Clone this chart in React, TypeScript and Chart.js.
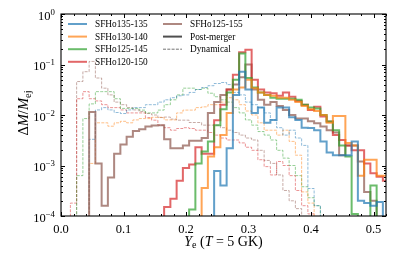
import React, { useEffect, useRef } from 'react';
import { Chart, registerables } from 'chart.js';

Chart.register(...registerables);

// Bin centres in Y_e (bin width 0.01)
const YE_BINS = [
  0.00, 0.01, 0.02, 0.03, 0.04, 0.05, 0.06, 0.07, 0.08, 0.09,
  0.10, 0.11, 0.12, 0.13, 0.14, 0.15, 0.16, 0.17, 0.18, 0.19,
  0.20, 0.21, 0.22, 0.23, 0.24, 0.25, 0.26, 0.27, 0.28, 0.29,
  0.30, 0.31, 0.32, 0.33, 0.34, 0.35, 0.36, 0.37, 0.38, 0.39,
  0.40, 0.41, 0.42, 0.43, 0.44, 0.45, 0.46, 0.47, 0.48, 0.49,
  0.50, 0.51, 0.52,
];
const BIN_HALF = 0.005;

const MODELS = ['SFHo135-135', 'SFHo130-140', 'SFHo125-145', 'SFHo120-150', 'SFHo125-155'];
const MODEL_RGB = ['31,119,180', '255,127,14', '44,160,44', '214,39,40', '140,86,75'];

// Post-merger ejecta, Delta M / M_ej per bin
const PM_135_135 = [
  0, 0, 0, 0, 0, 0, 0, 0, 0, 0,
  0, 0, 0, 0, 0, 0, 0, 0, 0, 0,
  0, 0, 0, 0, 0, 7.8e-4, 4.0e-4, 2.2e-3, 2.5e-2, 7.2e-2,
  3.2e-2, 1.1e-2, 1.4e-2, 7.0e-3, 8.0e-3, 1.4e-2, 1.4e-2, 9.0e-3, 8.0e-3, 5.6e-3,
  5.5e-3, 5.0e-3, 3.0e-3, 1.8e-3, 1.6e-3, 1.6e-3, 1.6e-3, 3.0e-3, 2.0e-4, 1.8e-4,
  1.6e-4, 1.9e-4, 0,
];
const PM_130_140 = [
  0, 0, 0, 0, 0, 0, 0, 0, 0, 0,
  0, 0, 0, 0, 0, 0, 0, 0, 0, 0,
  0, 0, 0, 3.6e-4, 1.5e-3, 2.3e-3, 4.0e-3, 1.1e-2, 3.2e-2, 3.5e-2,
  5.0e-2, 3.4e-2, 2.8e-2, 2.5e-2, 2.4e-2, 2.2e-2, 2.2e-2, 2.0e-2, 1.8e-2, 1.5e-2,
  1.3e-2, 1.2e-2, 1.0e-2, 7.0e-3, 9.5e-3, 9.5e-3, 2.8e-3, 2.5e-3, 6.3e-4, 1.3e-3,
  1.3e-3, 6.3e-4, 6.3e-4,
];
const PM_125_145 = [
  0, 0, 0, 0, 0, 0, 0, 0, 0, 0,
  0, 0, 0, 0, 0, 0, 0, 0, 0, 0,
  0, 1.35e-4, 1.1e-3, 1.9e-3, 3.0e-3, 6.3e-3, 1.3e-2, 2.8e-2, 5.0e-2, 1.66e-1,
  5.4e-2, 3.5e-2, 2.8e-2, 2.5e-2, 2.2e-2, 2.1e-2, 2.1e-2, 2.1e-2, 2.0e-2, 1.6e-2,
  1.4e-2, 1.35e-2, 1.0e-2, 7.4e-3, 5.0e-3, 2.5e-3, 1.5e-3, 1.1e-4, 0, 0,
  4.0e-4, 0, 0,
];
const PM_120_150 = [
  0, 0, 0, 0, 0, 0, 0, 0, 0, 0,
  0, 0, 0, 0, 0, 0, 0, 1.5e-4, 2.2e-4, 5.0e-4,
  8.9e-4, 1.05e-3, 2.3e-3, 1.7e-3, 1.7e-3, 7.9e-3, 1.6e-2, 3.2e-2, 6.3e-2, 1.74e-1,
  1.95e-1, 5.0e-2, 3.2e-2, 2.8e-2, 2.7e-2, 2.4e-2, 2.8e-2, 2.3e-2, 1.9e-2, 1.6e-2,
  1.25e-2, 1.45e-2, 9.3e-3, 7.4e-3, 4.0e-3, 3.2e-3, 2.5e-3, 2.0e-3, 2.0e-3, 1.1e-3,
  7.0e-4, 6.0e-4, 5.0e-4,
];
const PM_125_155 = [
  0, 0, 0, 0, 0, 1.15e-2, 1.1e-3, 1.6e-4, 5.8e-4, 1.7e-3,
  2.6e-3, 3.7e-3, 4.8e-3, 5.2e-3, 5.9e-3, 6.2e-3, 6.3e-3, 3.3e-3, 2.2e-3, 2.2e-3,
  2.5e-3, 3.1e-3, 3.1e-3, 3.5e-3, 1.1e-2, 1.8e-2, 2.5e-2, 3.2e-2, 4.0e-2, 5.6e-2,
  1.0e-1, 3.2e-2, 2.0e-2, 1.6e-2, 1.8e-2, 1.5e-2, 1.25e-2, 1.0e-2, 8.5e-3, 8.5e-3,
  7.5e-3, 6.9e-3, 5.9e-3, 5.0e-3, 4.5e-3, 1.6e-3, 2.5e-3, 2.5e-3, 1.2e-3, 3.0e-4,
  2.0e-4, 0, 0,
];

// Dynamical ejecta
const DYN_135_135 = [
  0, 0, 0, 0, 0, 3.3e-3, 1.26e-2, 1.4e-2, 1.26e-2, 1.12e-2,
  1.07e-2, 1.26e-2, 1.4e-2, 1.4e-2, 1.6e-2, 1.6e-2, 1.8e-2, 2.0e-2, 2.2e-2, 2.4e-2,
  2.5e-2, 2.8e-2, 3.2e-2, 3.5e-2, 3.8e-2, 4.2e-2, 4.4e-2, 4.0e-2, 2.8e-2, 2.5e-2,
  1.8e-2, 1.6e-2, 1.4e-2, 1.1e-2, 8.0e-3, 5.6e-3, 4.0e-3, 5.0e-3, 3.5e-3, 2.5e-3,
  3.5e-4, 1.6e-4, 0, 0, 0, 0, 0, 0, 0, 0,
  0, 0, 0,
];
const DYN_130_140 = [
  0, 0, 0, 0, 0, 1.1e-3, 7.0e-3, 7.0e-3, 6.0e-3, 7.0e-3,
  7.5e-3, 7.0e-3, 8.0e-3, 8.5e-3, 8.5e-3, 9.0e-3, 9.0e-3, 8.0e-3, 8.0e-3, 1.1e-2,
  1.25e-2, 1.25e-2, 1.4e-2, 1.45e-2, 1.6e-2, 1.6e-2, 1.8e-2, 2.2e-2, 2.0e-2, 1.6e-2,
  1.2e-2, 1.0e-2, 7.0e-3, 5.0e-3, 5.0e-3, 4.0e-3, 5.0e-3, 3.0e-3, 1.6e-3, 3.0e-4,
  1.8e-4, 0, 0, 0, 0, 0, 0, 0, 0, 0,
  0, 0, 0,
];
const DYN_125_145 = [
  0, 0, 0, 6.3e-4, 8.5e-3, 1.66e-2, 2.9e-2, 2.9e-2, 2.9e-2, 2.1e-2,
  1.35e-2, 1.35e-2, 1.35e-2, 1.25e-2, 1.1e-2, 1.1e-2, 1.25e-2, 1.6e-2, 2.0e-2, 2.5e-2,
  3.4e-2, 3.4e-2, 3.2e-2, 3.4e-2, 2.7e-2, 2.3e-2, 2.0e-2, 1.8e-2, 1.4e-2, 1.1e-2,
  8.0e-3, 6.3e-3, 4.7e-3, 4.0e-3, 3.2e-3, 2.0e-3, 1.4e-3, 1.0e-3, 6.3e-4, 3.8e-4,
  2.3e-4, 1.6e-4, 0, 0, 0, 0, 0, 0, 0, 0,
  0, 0, 0,
];
const DYN_120_150 = [
  0, 0, 1.8e-4, 2.1e-2, 2.9e-2, 2.1e-2, 1.9e-2, 1.6e-2, 1.4e-2, 1.4e-2,
  1.26e-2, 1.1e-2, 1.1e-2, 1.1e-2, 8.9e-3, 7.9e-3, 6.3e-3, 5.6e-3, 5.0e-3, 5.4e-3,
  5.6e-3, 5.4e-3, 5.0e-3, 5.0e-3, 4.5e-3, 4.0e-3, 3.5e-3, 3.2e-3, 3.2e-3, 2.8e-3,
  2.3e-3, 2.0e-3, 1.3e-3, 9.5e-4, 6.5e-4, 1.2e-3, 1.0e-3, 6.3e-4, 3.2e-4, 1.6e-4,
  1.1e-4, 0, 0, 0, 0, 0, 0, 0, 0, 0,
  0, 0, 0,
];
const DYN_125_155 = [
  0, 0, 0, 4.6e-2, 7.2e-2, 1.15e-1, 5.4e-2, 3.4e-2, 2.5e-2, 1.8e-2,
  1.6e-2, 1.4e-2, 1.26e-2, 1.17e-2, 1.07e-2, 1.0e-2, 8.9e-3, 9.1e-3, 8.3e-3, 7.9e-3,
  7.9e-3, 7.1e-3, 7.1e-3, 6.3e-3, 6.3e-3, 6.3e-3, 5.6e-3, 5.0e-3, 4.5e-3, 4.0e-3,
  3.5e-3, 3.2e-3, 2.0e-3, 1.26e-3, 1.1e-3, 6.5e-4, 3.2e-4, 2.0e-4, 1.4e-4, 0,
  0, 0, 0, 0, 0, 0, 0, 0, 0, 0,
  0, 0, 0,
];

const POST_MERGER = [PM_135_135, PM_130_140, PM_125_145, PM_120_150, PM_125_155];
const DYNAMICAL = [DYN_135_135, DYN_130_140, DYN_125_145, DYN_120_150, DYN_125_155];

const X_MAJOR = [0.0, 0.1, 0.2, 0.3, 0.4, 0.5];
const X_MINOR = [0.02, 0.04, 0.06, 0.08, 0.12, 0.14, 0.16, 0.18, 0.22, 0.24, 0.26, 0.28, 0.32, 0.34, 0.36, 0.38, 0.42, 0.44, 0.46, 0.48, 0.52];
const X_LABELS = ['0.0', '0.1', '0.2', '0.3', '0.4', '0.5'];
const Y_MAJOR = [1e-4, 1e-3, 1e-2, 1e-1, 1];
const Y_EXP = ['\u22124', '\u22123', '\u22122', '\u22121', '0'];
const Y_MIN = 1e-4;
const Y_MAX = 1;
const X_MIN = 0;
const X_MAX = 0.52;

const FONT = '"Liberation Serif", "DejaVu Serif", serif';
const FLOOR = 1e-7;

function stepPoints(vals: number[]) {
  const pts = vals.map((v, i) => ({ x: YE_BINS[i] - BIN_HALF, y: v > 0 ? v : FLOOR }));
  const last = vals.length - 1;
  pts.push({ x: YE_BINS[last] + BIN_HALF, y: vals[last] > 0 ? vals[last] : FLOOR });
  return pts;
}

type Run = { t: string; size: number; italic?: boolean; dy?: number };

function runsWidth(ctx: CanvasRenderingContext2D, runs: Run[]) {
  let w = 0;
  for (const r of runs) {
    ctx.font = `${r.italic ? 'italic ' : ''}${r.size}px ${FONT}`;
    w += ctx.measureText(r.t).width;
  }
  return w;
}

function drawRuns(ctx: CanvasRenderingContext2D, runs: Run[], x: number, y: number, align: 'left' | 'center' | 'right') {
  const w = runsWidth(ctx, runs);
  let cx = align === 'left' ? x : align === 'center' ? x - w / 2 : x - w;
  ctx.textAlign = 'left';
  ctx.textBaseline = 'alphabetic';
  for (const r of runs) {
    ctx.font = `${r.italic ? 'italic ' : ''}${r.size}px ${FONT}`;
    ctx.fillText(r.t, cx, y + (r.dy || 0));
    cx += ctx.measureText(r.t).width;
  }
}

const decorPlugin = {
  id: 'decor',
  afterDraw(chart: any) {
    const { ctx, chartArea: a, scales } = chart;
    const xs = scales.x;
    const ys = scales.y;
    ctx.save();
    ctx.fillStyle = '#000';
    ctx.strokeStyle = '#000';
    ctx.lineWidth = 1;
    const tick = (x1: number, y1: number, x2: number, y2: number) => {
      ctx.beginPath();
      ctx.moveTo(x1, y1);
      ctx.lineTo(x2, y2);
      ctx.stroke();
    };
    X_MAJOR.forEach((v) => {
      const p = Math.round(xs.getPixelForValue(v)) + 0.5;
      tick(p, a.bottom, p, a.bottom - 4);
      tick(p, a.top, p, a.top + 4);
    });
    X_MINOR.forEach((v) => {
      const p = Math.round(xs.getPixelForValue(v)) + 0.5;
      tick(p, a.bottom, p, a.bottom - 2);
      tick(p, a.top, p, a.top + 2);
    });
    Y_MAJOR.forEach((v) => {
      const p = Math.round(ys.getPixelForValue(v)) + 0.5;
      tick(a.left, p, a.left + 4, p);
      tick(a.right, p, a.right - 4, p);
    });
    for (let e = 0; e < Y_MAJOR.length - 1; e++) {
      for (let m = 2; m <= 9; m++) {
        const p = Math.round(ys.getPixelForValue(Y_MAJOR[e] * m)) + 0.5;
        tick(a.left, p, a.left + 2, p);
        tick(a.right, p, a.right - 2, p);
      }
    }
    ctx.lineWidth = 1.1;
    ctx.strokeRect(a.left, a.top, a.right - a.left, a.bottom - a.top);

    // x tick labels
    ctx.font = `12.5px ${FONT}`;
    ctx.textAlign = 'center';
    ctx.textBaseline = 'alphabetic';
    X_MAJOR.forEach((v, i) => {
      ctx.fillText(X_LABELS[i], xs.getPixelForValue(v), a.bottom + 16.5);
    });
    // y tick labels
    Y_MAJOR.forEach((v, i) => {
      const p = ys.getPixelForValue(v);
      drawRuns(ctx, [
        { t: '10', size: 12.5 },
        { t: Y_EXP[i], size: 8.8, dy: -4.8 },
      ], a.left - 6, p + 5.5, 'right');
    });

    // x axis label
    drawRuns(ctx, [
      { t: 'Y', size: 14, italic: true },
      { t: 'e', size: 10, dy: 2.2 },
      { t: ' (', size: 14 },
      { t: 'T', size: 14, italic: true },
      { t: ' = 5 GK)', size: 14 },
    ], (a.left + a.right) / 2, 246, 'center');

    // y axis label
    ctx.save();
    ctx.translate(28, (a.top + a.bottom) / 2 - 2);
    ctx.rotate(-Math.PI / 2);
    drawRuns(ctx, [
      { t: '\u0394', size: 14.5 },
      { t: 'M', size: 14.5, italic: true },
      { t: '/', size: 14.5 },
      { t: 'M', size: 14.5, italic: true },
      { t: 'ej', size: 10.5, dy: 3 },
    ], 0, 0, 'center');
    ctx.restore();

    // legend
    const rowY = [24, 36.6, 49.2, 61.8];
    const legendItem = (x0: number, y0: number, color: string, width: number, dash: number[], label: string) => {
      ctx.save();
      ctx.strokeStyle = color;
      ctx.lineWidth = width;
      ctx.setLineDash(dash);
      ctx.beginPath();
      ctx.moveTo(x0, y0);
      ctx.lineTo(x0 + 19, y0);
      ctx.stroke();
      ctx.restore();
      ctx.fillStyle = '#000';
      ctx.font = `9.3px ${FONT}`;
      ctx.textAlign = 'left';
      ctx.textBaseline = 'middle';
      ctx.fillText(label, x0 + 27, y0 + 0.5);
    };
    for (let i = 0; i < 4; i++) {
      legendItem(68, rowY[i], `rgba(${MODEL_RGB[i]},0.7)`, 2, [], MODELS[i]);
    }
    legendItem(163, rowY[0], `rgba(${MODEL_RGB[4]},0.7)`, 2, [], MODELS[4]);
    legendItem(163, rowY[1], 'rgba(60,60,60,0.9)', 2, [], 'Post-merger');
    legendItem(163, rowY[2], 'rgba(60,60,60,0.9)', 0.8, [3, 1.3], 'Dynamical');
    ctx.restore();
  },
};

export default function App() {
  const canvasRef = useRef<HTMLCanvasElement | null>(null);
  useEffect(() => {
    document.body.style.margin = '0';
    const canvas = canvasRef.current;
    if (!canvas) return;
    const datasets: any[] = [];
    POST_MERGER.forEach((vals, i) => {
      datasets.push({
        label: `${MODELS[i]} post-merger`,
        data: stepPoints(vals),
        borderColor: `rgba(${MODEL_RGB[i]},0.7)`,
        borderWidth: 2,
        stepped: 'before',
        pointRadius: 0,
        fill: false,
      });
    });
    DYNAMICAL.forEach((vals, i) => {
      datasets.push({
        label: `${MODELS[i]} dynamical`,
        data: stepPoints(vals),
        borderColor: `rgba(${MODEL_RGB[i]},0.55)`,
        borderWidth: 0.9,
        borderDash: [3, 1.3],
        stepped: 'before',
        pointRadius: 0,
        fill: false,
      });
    });
    const chart = new Chart(canvas, {
      type: 'line',
      data: { datasets },
      options: {
        responsive: false,
        animation: false,
        layout: { padding: { left: 61, right: 21, top: 14, bottom: 39 } },
        scales: {
          x: { type: 'linear', min: X_MIN, max: X_MAX, display: false },
          y: { type: 'logarithmic', min: Y_MIN, max: Y_MAX, display: false },
        },
        plugins: { legend: { display: false }, tooltip: { enabled: false } },
      },
      plugins: [decorPlugin],
    } as any);
    return () => chart.destroy();
  }, []);
  return <canvas ref={canvasRef} width={407} height={255} style={{ display: 'block' }} />;
}
